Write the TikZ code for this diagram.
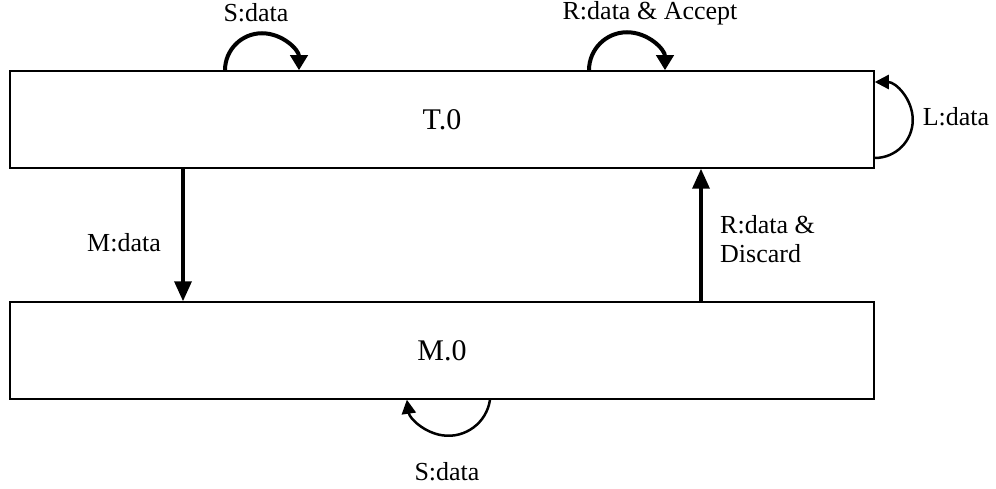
\documentclass[tikz,border=0pt]{standalone}
\usepackage{fontspec}
\setmainfont{Liberation Serif}
\usetikzlibrary{arrows.meta}
\begin{document}
\begin{tikzpicture}[x=1pt,y=1pt,
  state/.style={draw,line width=1.5pt,minimum width=864pt,minimum height=97pt,inner sep=0pt,font=\fontsize{30}{34}\selectfont},
  lbl/.style={font=\fontsize{26}{29}\selectfont,inner sep=0pt},
  bigloop/.style={line width=4pt,-{Triangle[length=15pt,width=17pt]}},
  vert/.style={line width=3.5pt,-{Triangle[length=20pt,width=17pt]}},
  thinloop/.style={line width=2.5pt,-{Triangle[length=14pt,width=14pt]}}]
\useasboundingbox (0,0) rectangle (996,488);
\node[state] (T) at (442,368.5) {T.0};
\node[state] (M) at (442,137.5) {M.0};
% top self loops
\coordinate (s1) at (T.north -| 225,0);
\draw[bigloop] (s1) arc[start angle=180,end angle=0,radius=37];
\coordinate (s2) at (T.north -| 589,0);
\draw[bigloop] (s2) arc[start angle=180,end angle=0,radius=38];
% right self loop
\coordinate (s3) at (T.east |- 0,330);
\draw[thinloop] (s3) arc[start angle=-90,end angle=90,radius=38];
% bottom self loop
\coordinate (s4) at (M.south -| 490,0);
\draw[thinloop] (s4) arc[start angle=-8.2,end angle=-171.8,radius=42];
% vertical arrows
\coordinate (mx) at (183,0);
\coordinate (rx) at (701,0);
\draw[vert] (T.south -| mx) -- (M.north -| mx);
\draw[vert] (M.north -| rx) -- (T.south -| rx);
% labels
\node[lbl] (l1) at (256,475) {S:data};
\node[lbl] (l2) at (650,475) {R:data \& Accept};
\node[lbl] (l3) at (956,371) {L:data};
\node[lbl] (l4) at (124,245) {M:data};
\node[lbl,align=left,anchor=west] (l5) at (720,249) {R:data \&\\Discard};
\node[lbl] (l6) at (447,16) {S:data};
\end{tikzpicture}
\end{document}
